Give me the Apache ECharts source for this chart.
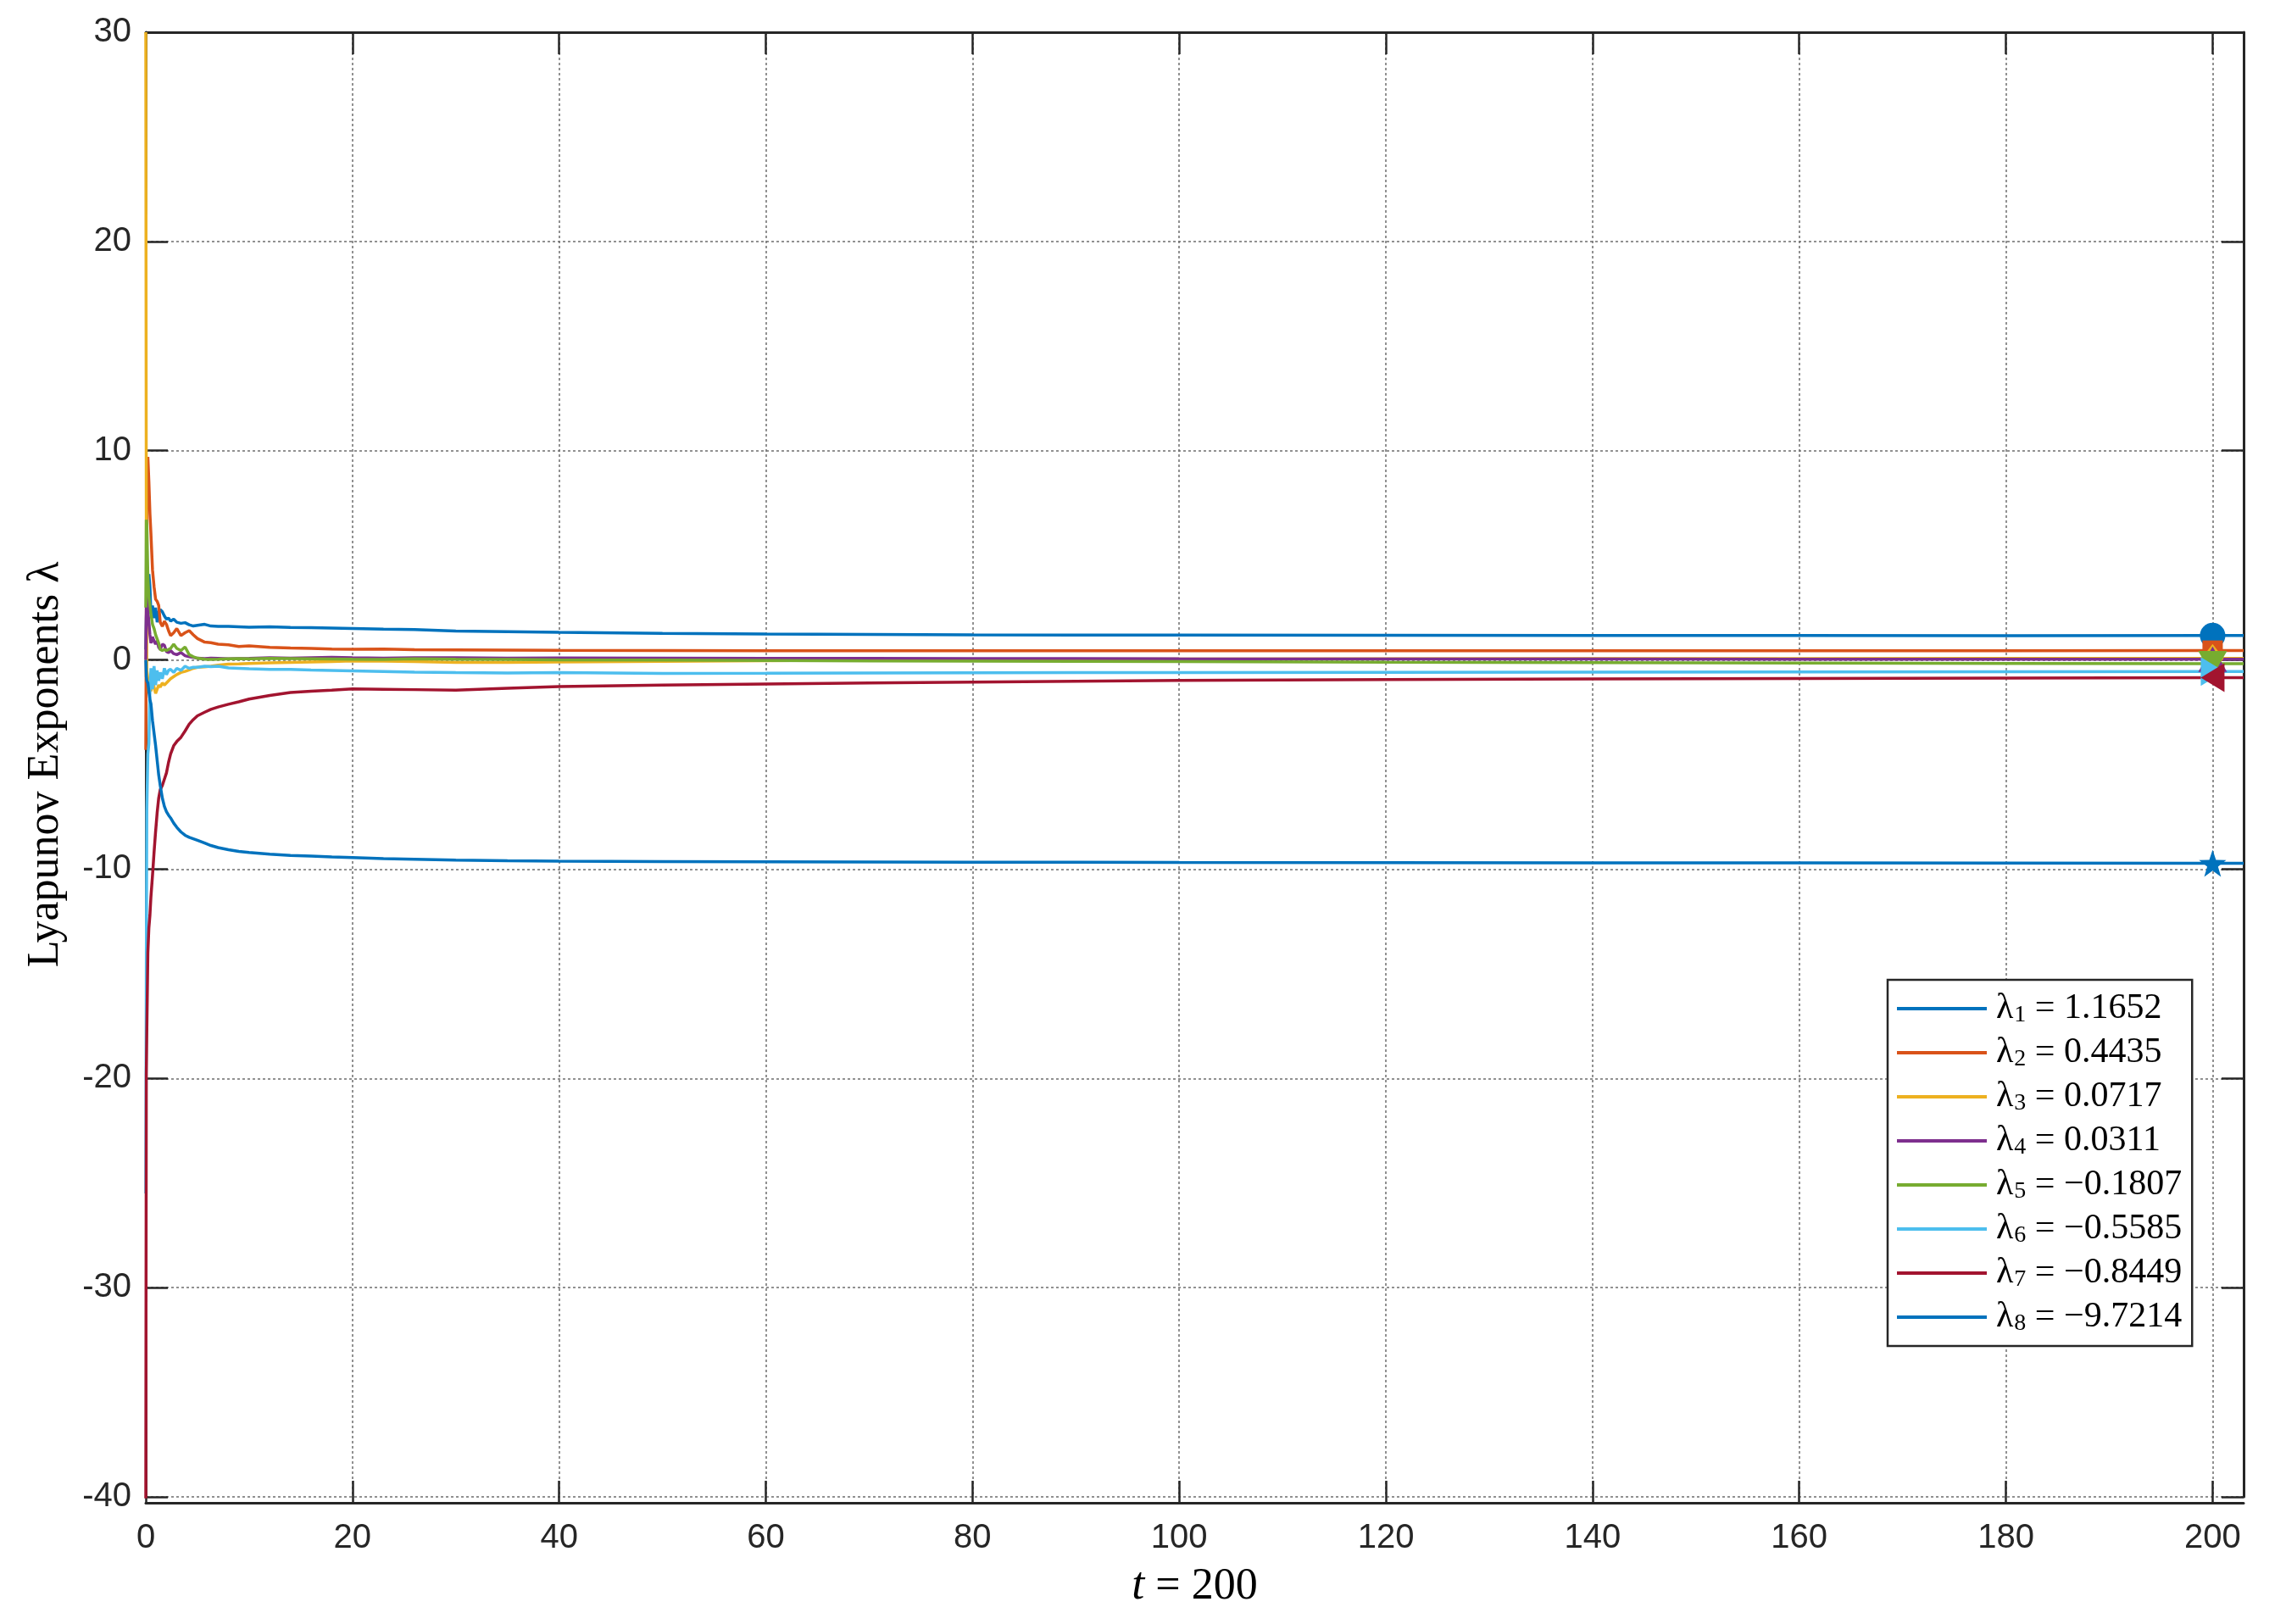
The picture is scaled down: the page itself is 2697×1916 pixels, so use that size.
<!DOCTYPE html>
<html><head><meta charset="utf-8">
<script src="https://cdn.jsdelivr.net/npm/echarts@6/dist/echarts.min.js"></script>
<style>html,body{margin:0;padding:0;background:#fff}#c{width:2697px;height:1916px}</style>
</head><body><div id="c"></div>
<script>
const times = [0, 0.05, 0.1, 0.2, 0.3, 0.4, 0.5, 0.65, 0.8, 0.95, 1.1, 1.25, 1.4, 1.6, 1.8, 2.0, 2.2, 2.4, 2.7, 3.0, 3.4, 3.8, 4.2, 4.6, 5.0, 5.7, 6.3, 7.0, 8.0, 9.0, 10, 12, 14, 16, 18, 20, 23, 26, 30, 35, 40, 50, 60, 70, 80, 90, 100, 120, 140, 160, 180, 200, 203];
const lambda1 = [0.5, 2.0, 3.0, 3.8, 4.1, 3.5, 2.2, 2.6, 2.0, 2.5, 1.8, 2.3, 2.4, 2.3, 2.1, 1.95, 2.0, 1.85, 1.95, 1.8, 1.75, 1.78, 1.68, 1.62, 1.65, 1.7, 1.62, 1.6, 1.6, 1.58, 1.56, 1.58, 1.55, 1.54, 1.52, 1.50, 1.47, 1.45, 1.38, 1.35, 1.32, 1.27, 1.24, 1.22, 1.20, 1.19, 1.19, 1.18, 1.17, 1.17, 1.16, 1.165, 1.165];
const lambda2 = [-4.3, 2.0, 7.5, 9.7, 8.5, 7.0, 6.0, 4.3, 3.5, 2.9, 2.8, 2.6, 1.8, 1.6, 1.85, 1.7, 1.4, 1.16, 1.3, 1.5, 1.16, 1.3, 1.4, 1.2, 1.02, 0.85, 0.82, 0.75, 0.72, 0.64, 0.67, 0.6, 0.57, 0.55, 0.52, 0.51, 0.52, 0.49, 0.48, 0.47, 0.46, 0.45, 0.44, 0.44, 0.44, 0.44, 0.44, 0.44, 0.44, 0.443, 0.443, 0.4435, 0.4435];
const lambda3 = [30, 6.3, -0.5, -0.9, -1.6, -1.2, -1.5, -1.0, -1.3, -1.6, -1.4, -1.2, -1.3, -1.1, -1.2, -1.1, -1.0, -0.9, -0.8, -0.7, -0.6, -0.55, -0.48, -0.4, -0.35, -0.33, -0.3, -0.25, -0.2, -0.19, -0.17, -0.14, -0.12, -0.1, -0.08, -0.05, -0.06, -0.08, -0.12, -0.12, -0.1, -0.07, -0.04, 0.0, 0.02, 0.03, 0.04, 0.05, 0.06, 0.065, 0.07, 0.0717, 0.0717];
const lambda4 = [0, 2.5, 3.1, 2.4, 1.8, 1.2, 0.8, 1.1, 0.9, 0.75, 0.9, 0.6, 0.5, 0.75, 0.7, 0.4, 0.35, 0.45, 0.3, 0.25, 0.35, 0.2, 0.15, 0.12, 0.08, 0.06, 0.08, 0.07, 0.05, 0.06, 0.07, 0.1, 0.08, 0.1, 0.12, 0.1, 0.08, 0.1, 0.1, 0.08, 0.09, 0.08, 0.07, 0.07, 0.06, 0.06, 0.05, 0.04, 0.04, 0.035, 0.033, 0.0311, 0.0311];
const lambda5 = [2.5, 6.7, 6.5, 4.0, 3.0, 2.6, 2.2, 1.7, 1.5, 1.2, 1.0, 0.8, 0.5, 0.45, 0.5, 0.45, 0.5, 0.55, 0.75, 0.55, 0.45, 0.62, 0.25, 0.15, 0.08, 0.03, 0.02, 0.03, 0.05, 0.06, 0.05, 0.07, 0.06, 0.05, 0.04, 0.03, 0.02, 0.05, 0.03, 0.02, 0.0, -0.01, -0.03, -0.05, -0.06, -0.07, -0.08, -0.11, -0.13, -0.15, -0.17, -0.1807, -0.1807];
const lambda6 = [-25.5, -14.8, -7.2, -4.5, -4.0, -1.5, -0.4, -1.4, -0.3, -1.2, -0.5, -1.0, -0.6, -0.9, -0.4, -0.7, -0.5, -0.45, -0.6, -0.4, -0.5, -0.3, -0.4, -0.35, -0.35, -0.3, -0.32, -0.3, -0.38, -0.4, -0.42, -0.45, -0.45, -0.48, -0.5, -0.52, -0.55, -0.58, -0.6, -0.62, -0.6, -0.65, -0.64, -0.62, -0.61, -0.6, -0.6, -0.59, -0.58, -0.57, -0.565, -0.5585, -0.5585];
const lambda7 = [-40.3, -19.8, -17.7, -14.0, -12.8, -12.2, -11.3, -10.3, -9.2, -8.2, -7.3, -6.6, -6.2, -6.0, -5.7, -5.4, -4.9, -4.5, -4.1, -3.9, -3.7, -3.4, -3.07, -2.85, -2.67, -2.5, -2.36, -2.25, -2.12, -2.0, -1.87, -1.7, -1.56, -1.5, -1.45, -1.38, -1.4, -1.42, -1.45, -1.35, -1.27, -1.2, -1.15, -1.1, -1.06, -1.02, -0.98, -0.94, -0.91, -0.89, -0.87, -0.845, -0.845];
const lambda8 = [0, -0.8, -1.0, -1.1, -1.5, -1.9, -2.1, -2.9, -3.5, -4.1, -4.8, -5.5, -6.0, -6.6, -7.0, -7.25, -7.42, -7.55, -7.8, -8.0, -8.22, -8.38, -8.48, -8.55, -8.62, -8.75, -8.87, -8.97, -9.07, -9.15, -9.2, -9.28, -9.34, -9.38, -9.42, -9.45, -9.5, -9.53, -9.57, -9.6, -9.62, -9.64, -9.65, -9.66, -9.67, -9.67, -9.68, -9.69, -9.7, -9.7, -9.71, -9.72, -9.72];
const seriesNames = ['λ1', 'λ2', 'λ3', 'λ4', 'λ5', 'λ6', 'λ7', 'λ8'];
const finalValues = [1.1652, 0.4435, 0.0717, 0.0311, -0.1807, -0.5585, -0.8449, -9.7214];
const markerT = 200;

const allSeries = [lambda1, lambda2, lambda3, lambda4, lambda5, lambda6, lambda7, lambda8];
const colors = ['#0072BD', '#D95319', '#EDB120', '#7E2F8E', '#77AC30', '#4DBEEE', '#A2142F', '#0072BD'];
const starPath = 'path://M0,-10 L2.35,-3.24 L9.51,-3.09 L3.8,1.24 L5.88,8.09 L0,4 L-5.88,8.09 L-3.8,1.24 L-9.51,-3.09 L-2.35,-3.24 Z';
const markerDefs = [
  {symbol: 'circle', size: 30, rot: 0},
  {symbol: 'rect', size: 24, rot: 0},
  {symbol: 'diamond', size: [26, 34], rot: 0},
  {symbol: 'triangle', size: [34, 30], rot: 0},
  {symbol: 'triangle', size: [34, 30], rot: 180},
  {symbol: 'triangle', size: [34, 28], rot: -90},
  {symbol: 'triangle', size: [34, 28], rot: 90},
  {symbol: starPath, size: 32, rot: 0}
];

const chart = echarts.init(document.getElementById('c'), null, {renderer: 'canvas'});
const axisColor = '#262626';
const tickFont = 'Liberation Sans, Arial, sans-serif';
const serif = 'Liberation Serif, Times New Roman, serif';

const lineSeries = allSeries.map((arr, i) => ({
  name: seriesNames[i],
  type: 'line',
  data: times.map((t, k) => [t, arr[k]]),
  showSymbol: false,
  symbol: 'none',
  lineStyle: {color: colors[i], width: 3.5},
  itemStyle: {color: colors[i]},
  emphasis: {disabled: true},
  animation: false,
  z: 2 + i * 0.01
}));
const markerSeries = allSeries.map((arr, i) => ({
  name: seriesNames[i] + ' marker',
  type: 'scatter',
  data: [[markerT, finalValues[i]]],
  symbol: markerDefs[i].symbol,
  symbolSize: markerDefs[i].size,
  symbolRotate: markerDefs[i].rot,
  itemStyle: {color: colors[i], opacity: 1},
  emphasis: {disabled: true},
  animation: false,
  z: 3
}));

function fmt(v) { return v.toFixed(4).replace('-', '\u2212'); }

const tickCommon = {inside: true, length: 26, lineStyle: {color: axisColor, width: 2.5}};
const gridLine = {show: true, lineStyle: {color: '#6e6e6e', width: 1.5, type: [3, 3]}};

const option = {
  backgroundColor: '#fff',
  animation: false,
  grid: {left: 172, right: 50, top: 38, bottom: 150, containLabel: false},
  xAxis: [{
    type: 'value', min: 0, max: 203, interval: 20, position: 'bottom', offset: 7,
    axisLine: {onZero: false, lineStyle: {color: axisColor, width: 3}},
    axisTick: tickCommon,
    axisLabel: {fontSize: 40, color: axisColor, fontFamily: tickFont, margin: 22, showMaxLabel: false},
    splitLine: gridLine,
    name: '{i|t}{n| = 200}', nameLocation: 'middle', nameGap: 72, nameMoveOverlap: false,
    nameTextStyle: {rich: {i: {fontFamily: serif, fontStyle: 'italic', fontSize: 54, color: '#000'}, n: {fontFamily: serif, fontSize: 52, color: '#000'}}}
  }, {
    type: 'value', min: 0, max: 203, interval: 20, position: 'top',
    axisLine: {onZero: false, lineStyle: {color: axisColor, width: 3}},
    axisTick: tickCommon,
    axisLabel: {show: false}, splitLine: {show: false}
  }],
  yAxis: [{
    type: 'value', min: -40, max: 30, interval: 10, position: 'left',
    axisLine: {onZero: false, lineStyle: {color: axisColor, width: 3}},
    axisTick: tickCommon,
    axisLabel: {fontSize: 40, color: axisColor, fontFamily: tickFont, margin: 17},
    splitLine: gridLine,
    name: 'Lyapunov Exponents λ', nameLocation: 'middle', nameGap: 92, nameMoveOverlap: false,
    nameTextStyle: {fontFamily: serif, fontSize: 52, color: '#000'}
  }, {
    type: 'value', min: -40, max: 30, interval: 10, position: 'right',
    axisLine: {onZero: false, lineStyle: {color: axisColor, width: 3}},
    axisTick: tickCommon,
    axisLabel: {show: false}, splitLine: {show: false}
  }],
  legend: {
    data: seriesNames,
    orient: 'vertical', left: 2227, top: 1156,
    padding: [12, 12, 12, 11],
    itemWidth: 106, itemHeight: 4, itemGap: 8,
    icon: 'rect',
    backgroundColor: '#fff', borderColor: axisColor, borderWidth: 2.5, borderRadius: 0,
    selectedMode: false,
    formatter: function (name) {
      const i = seriesNames.indexOf(name);
      return '{l|λ}{s|' + (i + 1) + '}{v| = ' + fmt(finalValues[i]) + '}';
    },
    textStyle: {
      color: '#000', fontFamily: serif, fontSize: 42, padding: [0, 0, 0, 6],
      rich: {
        l: {fontFamily: serif, fontSize: 42, lineHeight: 40, color: '#000'},
        s: {fontFamily: serif, fontSize: 28, lineHeight: 24, color: '#000', padding: [16, 0, 0, 1]},
        v: {fontFamily: serif, fontSize: 42, lineHeight: 40, color: '#000'}
      }
    }
  },
  series: lineSeries.concat(markerSeries)
};
chart.setOption(option);
</script>
</body></html>
